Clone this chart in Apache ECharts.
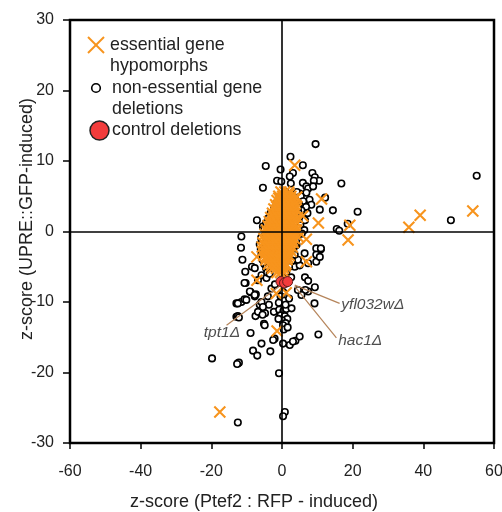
<!DOCTYPE html>
<html>
<head>
<meta charset="utf-8">
<script src="https://cdn.jsdelivr.net/npm/echarts@6/dist/echarts.min.js"></script>
<style>
html,body{margin:0;padding:0;background:#fff;}
#chart{width:502px;height:512px;}
</style>
</head>
<body>
<div id="chart"></div>
<script>
// ---- data ----
const xRange = [-60, 60, 20];
const yRange = [-30, 30, 10];
const xTitle = 'z-score (Ptef2 : RFP - induced)';
const yTitle = 'z-score (UPRE::GFP-induced)';
const seriesNames = ['essential gene\nhypomorphs', 'non-essential gene\ndeletions', 'control deletions'];

// essential gene hypomorphs (orange crosses)
const hypomorphs = [
  [3.6,9.4],[2.0,5.3],[3.3,4.6],[4.2,4.9],[3.8,4.7],[11.2,4.6],[5.9,2.2],[10.3,1.2],[19.2,0.9],[18.7,-1.2],
  [35.9,0.6],[39.1,2.3],[54.0,2.9],[4.7,-0.8],[6.9,-1.1],[6.9,-4.3],[-7.1,-3.6],[-7.1,-6.9],[-1.6,-8.8],[1.2,-8.7],
  [-1.4,-14.1],[-17.6,-25.6],
  [-0.3,5.6],[0.8,5.6],[1.9,5.6],
  [-0.9,5.0],[0.2,5.0],[1.3,5.0],[2.5,5.0],
  [-0.9,4.7],[0.2,4.7],[1.3,4.7],[2.4,4.7],
  [-1.4,4.4],[-0.4,4.4],[0.7,4.4],[1.8,4.4],[3.0,4.4],
  [-1.8,3.8],[-0.8,3.8],[0.3,3.8],[1.4,3.8],[2.4,3.8],[3.5,3.8],
  [-1.5,3.5],[-0.4,3.5],[0.7,3.5],[1.8,3.5],[2.9,3.5],
  [-2.3,3.2],[-1.2,3.2],[-0.2,3.2],[0.9,3.2],[2.0,3.2],[3.1,3.2],[4.0,3.2],
  [-2.7,2.6],[-1.7,2.6],[-0.6,2.6],[0.5,2.6],[1.5,2.6],[2.6,2.6],[3.7,2.6],
  [-2.4,2.3],[-1.3,2.3],[-0.2,2.3],[0.9,2.3],[2.0,2.3],[3.1,2.3],
  [-3.2,2.0],[-2.1,2.0],[-1.0,2.0],[0.1,2.0],[1.1,2.0],[2.2,2.0],[3.3,2.0],[4.4,2.0],
  [-3.6,1.4],[-2.5,1.4],[-1.5,1.4],[-0.4,1.4],[0.7,1.4],[1.8,1.4],[2.9,1.4],[4.0,1.4],
  [-3.3,1.1],[-2.2,1.1],[-1.1,1.1],[0.0,1.1],[1.1,1.1],[2.2,1.1],[3.3,1.1],
  [-4.0,0.8],[-3.0,0.8],[-1.9,0.8],[-0.8,0.8],[0.3,0.8],[1.4,0.8],[2.5,0.8],[3.6,0.8],
  [-4.4,0.2],[-3.3,0.2],[-2.2,0.2],[-1.2,0.2],[-0.1,0.2],[1.0,0.2],[2.1,0.2],[3.2,0.2],[4.1,0.2],
  [-4.1,-0.1],[-3.0,-0.1],[-1.9,-0.1],[-0.8,-0.1],[0.3,-0.1],[1.4,-0.1],[2.5,-0.1],[3.4,-0.1],
  [-4.8,-0.4],[-3.7,-0.4],[-2.6,-0.4],[-1.5,-0.4],[-0.5,-0.4],[0.6,-0.4],[1.7,-0.4],[2.8,-0.4],[3.8,-0.4],
  [-5.1,-1.0],[-4.0,-1.0],[-2.9,-1.0],[-1.9,-1.0],[-0.8,-1.0],[0.3,-1.0],[1.3,-1.0],[2.4,-1.0],[3.5,-1.0],
  [-4.7,-1.3],[-3.6,-1.3],[-2.5,-1.3],[-1.4,-1.3],[-0.3,-1.3],[0.8,-1.3],[1.9,-1.3],[2.9,-1.3],
  [-5.4,-1.6],[-4.3,-1.6],[-3.2,-1.6],[-2.2,-1.6],[-1.1,-1.6],[0.0,-1.6],[1.0,-1.6],[2.1,-1.6],[3.2,-1.6],
  [-5.6,-2.2],[-4.5,-2.2],[-3.5,-2.2],[-2.4,-2.2],[-1.3,-2.2],[-0.3,-2.2],[0.8,-2.2],[1.8,-2.2],[2.9,-2.2],
  [-5.0,-2.5],[-4.0,-2.5],[-2.9,-2.5],[-1.8,-2.5],[-0.8,-2.5],[0.2,-2.5],[1.2,-2.5],[2.2,-2.5],
  [-5.5,-2.8],[-4.6,-2.8],[-3.6,-2.8],[-2.5,-2.8],[-1.5,-2.8],[-0.5,-2.8],[0.6,-2.8],[1.6,-2.8],[2.6,-2.8],
  [-5.2,-3.4],[-4.2,-3.4],[-3.2,-3.4],[-2.2,-3.4],[-1.1,-3.4],[-0.1,-3.4],[0.9,-3.4],[2.0,-3.4],
  [-4.4,-3.7],[-3.4,-3.7],[-2.4,-3.7],[-1.3,-3.7],[-0.3,-3.7],[0.7,-3.7],[1.6,-3.7],
  [-4.6,-4.0],[-3.6,-4.0],[-2.6,-4.0],[-1.6,-4.0],[-0.6,-4.0],[0.4,-4.0],[1.4,-4.0],
  [-3.8,-4.6],[-2.8,-4.6],[-1.8,-4.6],[-0.8,-4.6],[0.2,-4.6],[1.1,-4.6],
  [-3.0,-4.9],[-2.0,-4.9],[-1.0,-4.9],[0.0,-4.9],[0.9,-4.9],
  [-2.7,-5.2],[-1.6,-5.2],[-0.6,-5.2],[0.4,-5.2],
  [-1.4,-5.8],[-0.4,-5.8],[0.6,-5.8]
];

// non-essential gene deletions (open circles)
const deletions = [
  [9.5,12.4],[2.4,10.6],[-4.6,9.3],[5.9,9.4],[-0.4,8.8],[3.1,8.3],[8.6,8.3],[9.3,7.7],[10.5,7.2],[9.0,7.2],
  [-1.4,7.2],[-0.2,7.1],[2.2,7.8],[2.5,6.8],[5.9,6.9],[6.9,6.4],[-5.4,6.2],[16.8,6.8],[7.4,6.1],[8.8,6.4],
  [1.0,5.6],[5.0,5.4],[6.9,5.5],
  [-0.5,4.9],[0.0,4.6],[-0.3,4.3],[0.4,4.8],[-0.8,4.5],[0.2,5.2],
  [7.8,4.5],[8.3,3.8],[10.7,3.1],[14.4,3.0],[21.4,2.8],[12.2,4.8],[47.8,1.6],[55.1,7.9],[15.5,0.35],[16.2,0.1],
  [18.6,1.1],[11.0,-2.5],
  [-7.1,1.6],[-5.4,0.7],[5.9,1.6],[6.5,1.6],
  [-11.5,-0.7],[-11.6,-2.3],[9.7,-2.4],[11.0,-2.4],[9.7,-3.3],[-11.2,-4.0],[-10.4,-5.7],[-8.5,-5.0],[4.2,-4.8],
  [6.5,-6.5],[7.4,-7.0],[9.3,-7.9],[6.0,-8.4],[7.4,-8.5],[9.2,-10.2],
  [-8.9,-8.6],[-7.4,-8.9],[-11.5,-10.0],[-12.9,-10.2],[-10.6,-9.6],[-9.1,-8.5],[-7.7,-9.2],[-6.3,-10.4],
  [-5.4,-11.4],[-3.7,-10.4],[-4.8,-11.6],[-2.3,-11.4],[-6.3,-11.6],[-7.5,-12.0],[-12.9,-12.1],[-12.5,-12.0],
  [-12.2,-12.2],[-12.5,-10.2],[-10.3,-7.3],
  [-0.8,-11.1],[0.4,-11.3],[1.2,-11.0],[-0.4,-11.9],[0.8,-12.0],[1.5,-12.4],[0.0,-12.6],[1.0,-13.0],
  [-1.0,-12.4],[0.3,-13.3],[0.5,-13.9],[1.6,-13.6],
  [-5.1,-13.1],[-4.9,-13.3],[3.8,-15.5],[5.0,-14.9],[-5.8,-15.9],[-8.2,-16.9],[-7.0,-17.6],[-3.3,-17.0],
  [-2.1,-15.2],[0.3,-15.9],[2.2,-16.1],[10.3,-14.6],[-8.9,-14.4],[-2.5,-15.4],
  [-19.8,-18.0],[-12.5,-18.7],[-12.2,-18.6],[-12.7,-18.8],[-0.85,-20.1],[0.8,-25.6],[0.3,-26.2],[-12.5,-27.1],
  [6.6,-8.3],[5.5,-9.0],[4.5,-8.3],
  [-7.7,-5.2],[-5.8,-6.2],[-4.4,-6.6],[-6.8,-6.9],[-10.6,-7.3],[-3.0,-8.1],[-7.7,-9.0],[-10.1,-9.7],
  [-5.8,-10.0],[-5.4,-10.7],[-6.8,-11.4],[-5.5,-11.8],[-4.0,-9.2],[2.7,-10.9],
  [3.6,-5.0],[5.0,-4.8],[7.4,-4.5],[9.7,-4.3],[10.7,-3.6],[6.4,-3.1],[4.5,-4.0],[2.7,-1.7],[4.1,-1.9],
  [3.1,-15.6],
  [-6.0,-2.5],[-5.8,-3.2],[-5.5,-4.0],[-5.0,-4.6],[-4.5,-5.2],[-6.3,-1.8],[-4.2,-5.8],[-3.5,-6.0],
  [3.2,-2.5],[3.6,-3.3],[2.8,-4.2],[2.0,-5.0],[1.2,-5.8],[3.8,-2.0],
  [4.2,5.6],[5.3,5.0],[6.0,4.3],[4.8,3.9],[6.8,3.5],[5.5,3.0],[7.2,2.6],
  [-4.5,1.2],[-3.8,1.9],[-5.0,0.4],[-3.2,2.6],[5.2,0.9],[4.6,2.8],[6.3,0.2],[5.6,-0.3],
  [0.3,-8.6],[-0.4,-9.2],[0.6,-9.8],[1.0,-10.4],[-0.9,-10.1],[2.0,-9.5],[-2.0,-7.5],[2.6,-6.5],
  [-4.8,-0.6],[-5.2,-1.2],[-4.0,0.0],[-3.5,0.9],[-2.8,2.2],[-2.2,3.3],[-1.6,4.0],[-5.9,-0.9],
  [4.6,0.5],[4.3,-0.9],[4.0,-1.2],[3.9,1.8],[4.5,3.4],[3.6,4.0]
];

// control deletions (red filled circles)
const controls = [[-0.3,-7.1],[0.7,-7.3],[1.6,-7.1]];

// annotations: gene names, leader lines and label anchors
const annotNames = ['yfl032wΔ', 'hac1Δ', 'tpt1Δ'];
const annotLines = [
  [[3.6,-7.6],[16.3,-10.2]],
  [[3.6,-7.8],[15.4,-15.1]],
  [[-0.8,-7.8],[-15.7,-13.3]]
];
const annotAnchors = [[16.8,-10.4],[15.9,-15.5],[-17.0,-14.4]];

// ---- chart ----
const FONT = '"Liberation Sans", Arial, Helvetica, sans-serif';
const ORANGE = '#F7941D';
const chart = echarts.init(document.getElementById('chart'), null, {renderer: 'canvas'});

const leaderSeries = annotLines.map(seg => ({
  type: 'line', data: seg, symbol: 'none', silent: true, z: 4,
  lineStyle: {color: '#B5845A', width: 1.2}, animation: false
}));

const option = {
  animation: false,
  backgroundColor: '#fff',
  grid: {left: 70, right: 8, top: 20, bottom: 69, show: true, borderColor: '#000', borderWidth: 2.5,
         containLabel: false, outerBoundsMode: 'none'},
  xAxis: {
    type: 'value', min: xRange[0], max: xRange[1], interval: xRange[2],
    axisLine: {show: false, onZero: false},
    axisTick: {show: true, length: 6, lineStyle: {color: '#000', width: 1.5}},
    axisLabel: {fontSize: 16, color: '#222', margin: 21, fontFamily: FONT},
    splitLine: {show: false},
    name: xTitle, nameLocation: 'middle', nameGap: 50, nameMoveOverlap: false,
    nameTextStyle: {fontSize: 18, color: '#222', fontFamily: FONT, padding: [0, 56, 0, 0]}
  },
  yAxis: {
    type: 'value', min: yRange[0], max: yRange[1], interval: yRange[2],
    axisLine: {show: false, onZero: false},
    axisTick: {show: true, length: 7, lineStyle: {color: '#000', width: 1.5}},
    axisLabel: {fontSize: 16, color: '#222', margin: 16, fontFamily: FONT},
    splitLine: {show: false},
    name: yTitle, nameLocation: 'middle', nameGap: 34, nameMoveOverlap: false,
    nameTextStyle: {fontSize: 18, color: '#222', fontFamily: FONT, padding: [0, 0, 0, 25]}
  },
  series: [
    {
      name: seriesNames[1], type: 'scatter', data: deletions, z: 2,
      symbol: 'circle', symbolSize: 6.5,
      itemStyle: {color: '#fff', borderColor: '#000', borderWidth: 1.6, opacity: 1},
      markLine: {
        silent: true, symbol: ['none', 'none'], label: {show: false},
        lineStyle: {color: '#000', width: 1.6, type: 'solid'},
        data: [{xAxis: 0}, {yAxis: 0}]
      }
    },
    {
      name: seriesNames[0], type: 'scatter', data: hypomorphs, z: 3,
      symbol: 'path://M0,0L10,10M10,0L0,10', symbolSize: 11, symbolKeepAspect: true,
      itemStyle: {color: 'none', borderColor: ORANGE, borderWidth: 2.1, opacity: 1}
    },
    {
      name: seriesNames[2], type: 'scatter', data: controls, z: 5,
      symbol: 'circle', symbolSize: 10,
      itemStyle: {color: '#F23C3C', borderColor: '#5a1a1a', borderWidth: 1, opacity: 1}
    },
    ...leaderSeries,
    {
      type: 'scatter', z: 6, silent: true, symbolSize: 0,
      data: annotAnchors.map((p, i) => ({value: p, name: annotNames[i]})),
      label: {
        show: true, formatter: p => p.name,
        position: 'right', distance: 0,
        fontSize: 15.5, fontStyle: 'italic', color: '#222', fontFamily: FONT
      }
    }
  ],
  graphic: [
    {type: 'line', shape: {x1: 88, y1: 37, x2: 104, y2: 53}, style: {stroke: ORANGE, lineWidth: 2}},
    {type: 'line', shape: {x1: 104, y1: 37, x2: 88, y2: 53}, style: {stroke: ORANGE, lineWidth: 2}},
    {type: 'text', left: 110, top: 34, style: {text: seriesNames[0], fontSize: 17.8, lineHeight: 21.5, fill: '#222', fontFamily: FONT}},
    {type: 'circle', shape: {cx: 96, cy: 88, r: 4.3}, style: {fill: '#fff', stroke: '#000', lineWidth: 1.6}},
    {type: 'text', left: 112, top: 77, style: {text: seriesNames[1], fontSize: 17.8, lineHeight: 21.5, fill: '#222', fontFamily: FONT}},
    {type: 'circle', shape: {cx: 99.5, cy: 130.5, r: 9.5}, style: {fill: '#F23C3C', stroke: '#222', lineWidth: 1.5}},
    {type: 'text', left: 112, top: 119, style: {text: seriesNames[2], fontSize: 17.8, lineHeight: 21.5, fill: '#222', fontFamily: FONT}}
  ]
};
// tpt1 label sits centred under its leader end
option.series[option.series.length - 1].data[2].label = {position: 'inside'};
chart.setOption(option);
</script>
</body>
</html>
